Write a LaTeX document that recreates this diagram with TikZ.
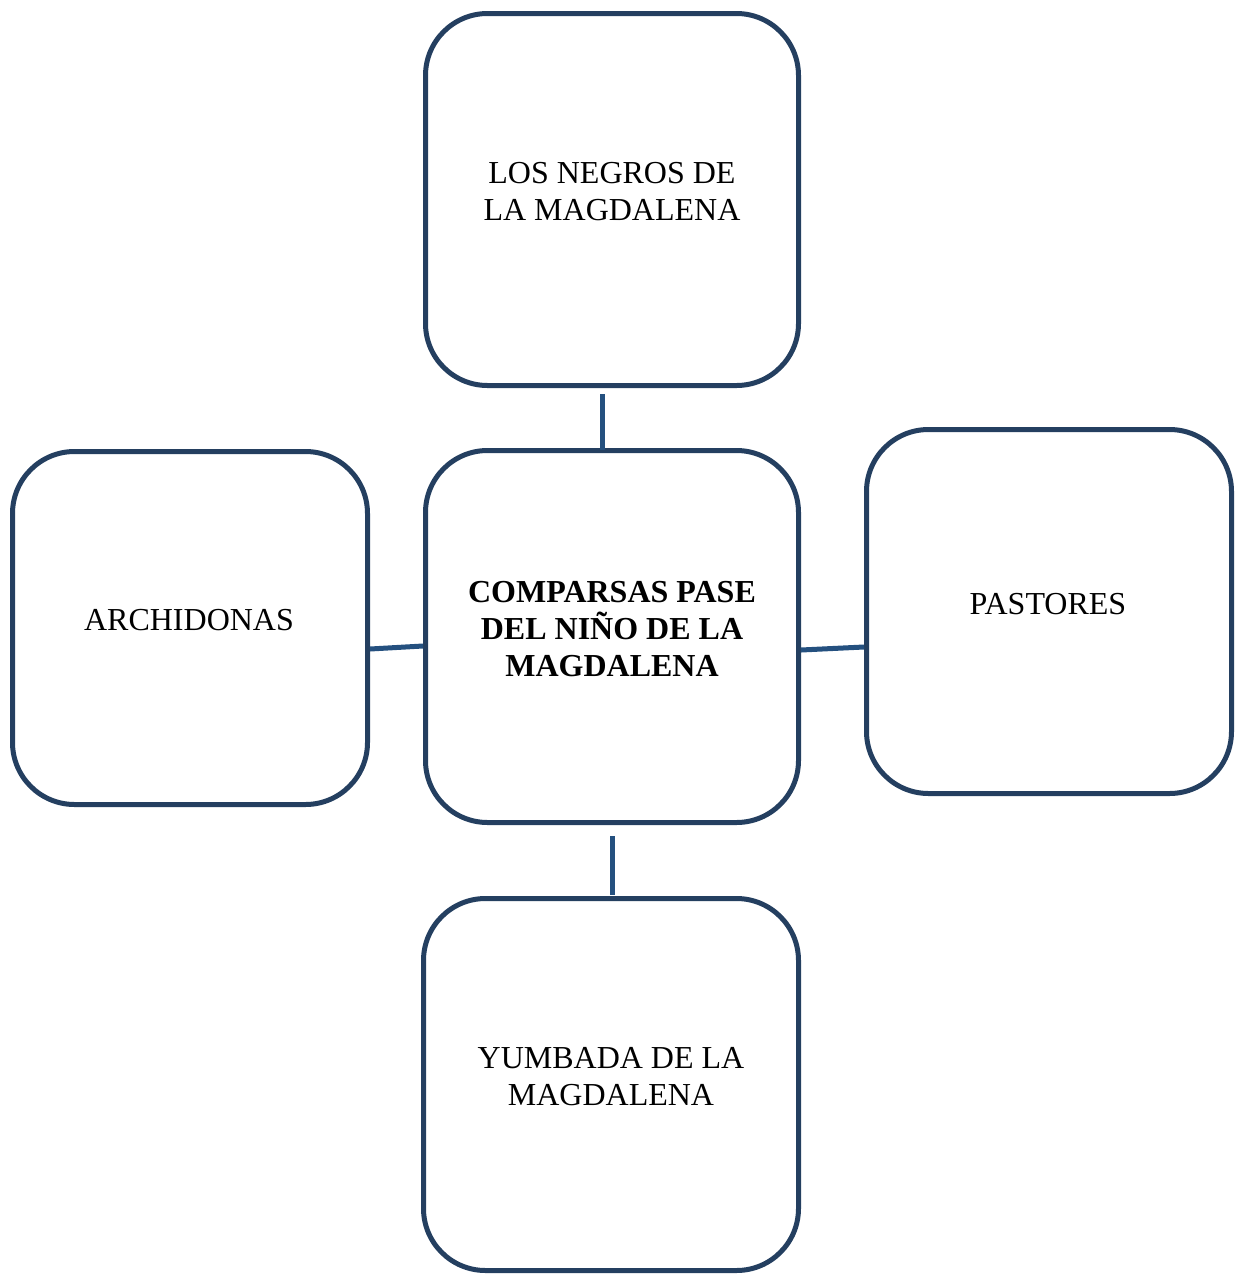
\documentclass[tikz,border=0pt]{standalone}
\usepackage{fontspec}
\setmainfont{Liberation Serif}
\begin{document}
\begin{tikzpicture}[x=1pt,y=-1pt,
  box/.style={draw=boxcol,line width=5pt,rounded corners=62pt,inner sep=0pt},
  conn/.style={draw=conncol,line width=5pt},
  lbl/.style={align=center,font=\fontsize{32}{37}\selectfont,inner sep=0pt}]
\definecolor{boxcol}{HTML}{243F60}
\definecolor{conncol}{HTML}{24507F}
\useasboundingbox (0,0) rectangle (1242,1275);
\node[box,minimum width=373pt,minimum height=372pt] (top) at (612,199.5) {};
\node[box,minimum width=373pt,minimum height=372pt] (mid) at (612,636.5) {};
\node[box,minimum width=355pt,minimum height=353pt] (left) at (190,628) {};
\node[box,minimum width=365pt,minimum height=364pt] (right) at (1049,611.5) {};
\node[box,minimum width=375pt,minimum height=372pt] (bot) at (611,1084.5) {};
\node[lbl] (ttop) at (612,192) {LOS NEGROS DE\\LA MAGDALENA};
\node[lbl,font=\fontsize{32}{37}\selectfont\bfseries] (tmid) at (612,629) {COMPARSAS PASE\\DEL NIÑO DE LA\\MAGDALENA};
\node[lbl] (tleft) at (189,620) {ARCHIDONAS};
\node[lbl] (tright) at (1048,604) {PASTORES};
\node[lbl] (tbot) at (611,1077) {YUMBADA DE LA\\MAGDALENA};
\coordinate (c1a) at (602,394);
\coordinate (c1b) at (602,450);
\coordinate (c2a) at (370,649);
\coordinate (c2b) at (423,646);
\coordinate (c3a) at (801,650);
\coordinate (c3b) at (864,647);
\coordinate (c4a) at (612,836);
\coordinate (c4b) at (612,895);
\draw[conn] (c1a) -- (c1b);
\draw[conn] (c2a) -- (c2b);
\draw[conn] (c3a) -- (c3b);
\draw[conn] (c4a) -- (c4b);
\end{tikzpicture}
\end{document}
